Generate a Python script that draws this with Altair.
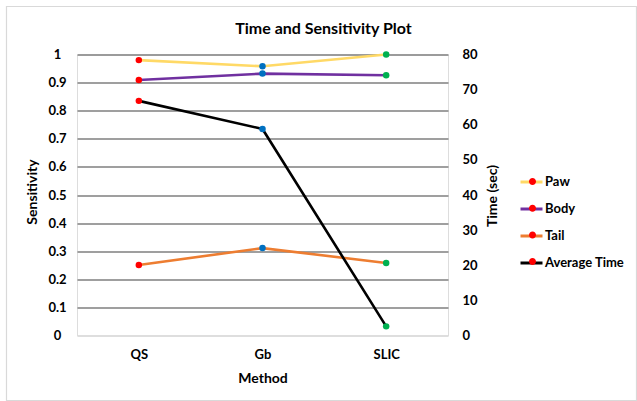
import altair as alt
import pandas as pd

methods = ["QS", "Gb", "SLIC"]
paw = [0.98, 0.958, 1.0]
body = [0.909, 0.932, 0.926]
tail = [0.251, 0.311, 0.258]
avg_time = [66.8, 58.8, 2.6]

series_names = ["Paw", "Body", "Tail", "Average Time"]
series_colors = ["#FFD966", "#7030A0", "#ED7D31", "#000000"]
point_colors = ["#FF0000", "#0070C0", "#00B050"]

sens_ticks = [0, 0.1, 0.2, 0.3, 0.4, 0.5, 0.6, 0.7, 0.8, 0.9, 1]
time_ticks = [0, 10, 20, 30, 40, 50, 60, 70, 80]

rows = []
for name, vals in zip(["Paw", "Body", "Tail"], [paw, body, tail]):
    for m, v in zip(methods, vals):
        rows.append({"Method": m, "Series": name, "Marker": name, "Value": v})
sens = pd.DataFrame(rows)
time_df = pd.DataFrame({"Method": methods, "Series": ["Average Time"] * 3,
                        "Marker": ["Average Time"] * 3, "Value": avg_time})

FONT = "Lato"
W, H = 371, 281
LEG_X, LEG_Y = 442, 115

x_enc = alt.X(
    "Method:N",
    sort=methods,
    scale=alt.Scale(domain=methods),
    axis=alt.Axis(
        title="Method", labelAngle=0, domain=False, ticks=False, tickSize=0, grid=False,
        labelPadding=13, labelFont=FONT, labelFontSize=13, labelFontWeight="bold", labelColor="#000",
        titleFont=FONT, titleFontSize=14, titleFontWeight="bold", titleColor="#000",
        titleBaseline="middle", titleY=43,
    ),
)

stroke_enc = alt.Stroke(
    "Series:N",
    scale=alt.Scale(domain=series_names, range=series_colors),
    legend=alt.Legend(
        title=None, orient="none", legendX=LEG_X, legendY=LEG_Y,
        symbolType="M-1,0L1,0", symbolSize=484, symbolStrokeWidth=3,
        labelFont=FONT, labelFontSize=13, labelFontWeight="bold", labelColor="#000",
        labelOffset=1, rowPadding=7,
    ),
)

# marker legend (red dots drawn over the line symbols); its own data-derived domain
opacity_enc = alt.Opacity(
    "Marker:N",
    scale=alt.Scale(range=[1, 1, 1, 1]),
    legend=alt.Legend(
        title=None, orient="none", legendX=LEG_X + 2.5, legendY=LEG_Y + 1,
        symbolType="M-0.32,0A0.32,0.32 0 1,1 0.32,0A0.32,0.32 0 1,1 -0.32,0Z",
        symbolSize=484, symbolFillColor="#FF0000", symbolStrokeColor="#FF0000",
        symbolStrokeWidth=0, labelExpr="''",
        labelFont=FONT, labelFontSize=13, labelOffset=1, rowPadding=8.7,
    ),
)

fill_enc = alt.Fill("Method:N", scale=alt.Scale(domain=methods, range=point_colors), legend=None)

y_left = alt.Y(
    "Value:Q",
    scale=alt.Scale(domain=[0, 1]),
    axis=alt.Axis(
        title="Sensitivity", values=sens_ticks, format="~g", orient="left",
        grid=True,
        gridColor={"condition": {"test": "datum.value == 0", "value": "#D9D9D9"}, "value": "#7F7F7F"},
        gridWidth=1.5, domain=False, ticks=False, tickSize=0,
        labelAlign="center", labelPadding=20, labelFont=FONT, labelFontSize=13,
        labelFontWeight="bold", labelColor="#000",
        titleFont=FONT, titleFontSize=14, titleFontWeight="bold", titleColor="#000",
        titleAngle=270, titleBaseline="middle", titleX=-45, titleY=137,
    ),
)

y_right = alt.Y(
    "Value:Q",
    scale=alt.Scale(domain=[0, 80]),
    axis=alt.Axis(
        title="Time (sec)", values=time_ticks, orient="right",
        grid=False, domain=False, ticks=False, tickSize=0,
        labelAlign="left", labelPadding=14, labelFont=FONT, labelFontSize=13,
        labelFontWeight="bold", labelColor="#000",
        titleFont=FONT, titleFontSize=14, titleFontWeight="bold", titleColor="#000",
        titleAngle=270, titleBaseline="middle", titleX=44, titleY=141,
    ),
)

border = alt.Chart(pd.DataFrame({"k": [0]})).mark_rect(
    fill=None, stroke="#D9D9D9", strokeWidth=1.2
).encode(
    x=alt.value(-70.5), x2=alt.value(559.5), y=alt.value(-48), y2=alt.value(H + 65)
)

sens_line = alt.Chart(sens).mark_line(strokeWidth=2.6).encode(
    x=x_enc, y=y_left, stroke=stroke_enc, detail="Series:N"
)
sens_pts = alt.Chart(sens).mark_circle(size=42, opacity=1).encode(
    x=x_enc, y=y_left, fill=fill_enc, opacity=opacity_enc
)
time_line = alt.Chart(time_df).mark_line(strokeWidth=2.6).encode(
    x=x_enc, y=y_right, stroke=stroke_enc
)
time_pts = alt.Chart(time_df).mark_circle(size=42, opacity=1).encode(
    x=x_enc, y=y_right, fill=fill_enc, opacity=opacity_enc
)

chart = alt.layer(
    border,
    alt.layer(sens_line, sens_pts),
    alt.layer(time_line, time_pts),
).resolve_scale(y="independent").properties(
    width=W, height=H,
    title=alt.Title("Time and Sensitivity Plot", font=FONT, fontSize=16, fontWeight="bold",
                    color="#000", anchor="middle", dx=61, offset=-31.5),
    autosize=alt.AutoSizeParams(type="none"),
    padding={"left": 77, "top": 54.5, "right": 189, "bottom": 65.5},
).configure_view(stroke=None).configure(background="white")

chart.save("out.html", embed_options={"renderer": "svg", "actions": False})
